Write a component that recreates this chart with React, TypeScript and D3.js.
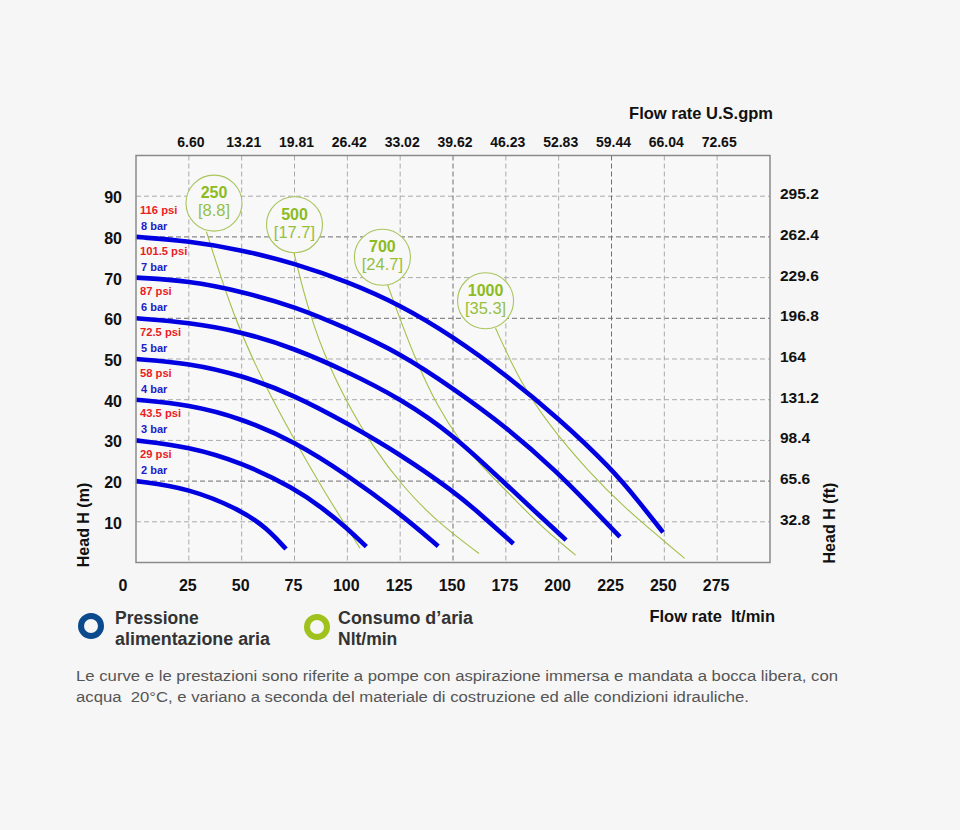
import React from "react";
import * as d3 from "d3";

// ---- data ----
const flowTicks = [25, 50, 75, 100, 125, 150, 175, 200, 225, 250, 275];
const flowTickLabels = ["25", "50", "75", "100", "125", "150", "175", "200", "225", "250", "275"];
const gpmLabels = ["6.60", "13.21", "19.81", "26.42", "33.02", "39.62", "46.23", "52.83", "59.44", "66.04", "72.65"];
const headTicks = [10, 20, 30, 40, 50, 60, 70, 80, 90];
const ftLabels = ["32.8", "65.6", "98.4", "131.2", "164", "196.8", "229.6", "262.4", "295.2"];
const darkHeadLines = [20, 60, 80];
const darkFlowLines = [150, 225];

const curve2bar: [number, number][] = [[0, 20], [25, 18.3], [50, 12.8], [62, 8.4], [71, 3.3]];
const curve3bar: [number, number][] = [[0, 30], [25, 28.5], [50, 24.6], [75, 18.2], [88, 13.5], [100, 8.4], [109, 3.9]];
const curve4bar: [number, number][] = [[0, 40], [25, 38.8], [50, 35.4], [75, 29.7], [100, 21.5], [125, 12], [143, 4]];
const curve5bar: [number, number][] = [[0, 50], [25, 49], [50, 46], [75, 41.1], [100, 34.2], [125, 26.6], [150, 17.6], [163, 11.9], [178.6, 4.6]];
const curve6bar: [number, number][] = [[0, 60], [25, 59], [50, 56.7], [75, 52.6], [100, 46.9], [125, 40.3], [150, 31.5], [175, 19.2], [191, 11.5], [203.5, 5.5]];
const curve7bar: [number, number][] = [[0, 70], [25, 69.2], [50, 66.6], [75, 62.9], [100, 57.5], [125, 51.4], [150, 42.8], [175, 33.4], [200, 21.9], [214.5, 14.1], [229, 6.3]];
const curve8bar: [number, number][] = [[0, 80], [25, 79], [50, 76.8], [75, 73.5], [100, 69], [125, 63.3], [150, 55.5], [175, 46.1], [200, 35.4], [225, 23.1], [238, 14.9], [249.4, 7.4]];

const pressureCurves = [curve2bar, curve3bar, curve4bar, curve5bar, curve6bar, curve7bar, curve8bar];
const barLabels = ["2 bar", "3 bar", "4 bar", "5 bar", "6 bar", "7 bar", "8 bar"];
const psiLabels = ["29 psi", "43.5 psi", "58 psi", "72.5 psi", "87 psi", "101.5 psi", "116 psi"];

const air250: [number, number][] = [[33.3, 81.3], [46, 60.5], [60, 44.5], [74, 31], [88, 18.3], [106, 3.5]];
const air500: [number, number][] = [[74.7, 76.2], [80, 64.8], [88.5, 51.5], [99.5, 39.5], [112, 28.5], [126, 18.8], [142, 10.2], [162.3, 2.2]];
const air700: [number, number][] = [[119, 68.3], [125.5, 59], [133, 49], [142.5, 38.5], [153, 30], [163, 24], [174.5, 18], [190.5, 9.4], [208, 1.8]];
const air1000: [number, number][] = [[170.1, 57.6], [181.1, 45], [195.3, 33.8], [214.2, 22.3], [231.5, 13.3], [250.3, 5.1], [259.6, 1]];
const airCurves = [air250, air500, air700, air1000];
const airCenters: [number, number][] = [[36.9, 88.3], [75, 83], [116.6, 75], [165.4, 64.3]];
const airNl = ["250", "500", "700", "1000"];
const airCfm = ["[8.8]", "[17.7]", "[24.7]", "[35.3]"];

// ---- layout ----
const W = 960, H = 830;
const X0 = 136, X1 = 770, Y0 = 562.5, Y1 = 155.5;
const FONT = "'Liberation Sans', Arial, Helvetica, sans-serif";

export default function App() {
  const x = d3.scaleLinear().domain([0, 300]).range([X0, X1]);
  const y = d3.scaleLinear().domain([0, 100]).range([Y0, Y1]);
  const line = d3.line<[number, number]>().x(d => x(d[0])).y(d => y(d[1])).curve(d3.curveBasis);
  const R = 28;

  return (
    <svg width={W} height={H} style={{ position: "absolute", left: 0, top: 0 }} fontFamily={FONT}>
      <rect x={0} y={0} width={W} height={H} fill="#f6f6f6" />
      <rect x={X0} y={Y1} width={X1 - X0} height={Y0 - Y1} fill="#f8f8f8" />
      {/* grid */}
      {headTicks.map(h => (
        <line key={"h" + h} x1={X0} x2={X1} y1={y(h)} y2={y(h)}
          stroke={darkHeadLines.includes(h) ? "#6e6e6e" : "#aaaaaa"} strokeWidth={1} strokeDasharray="5,3" />
      ))}
      {flowTicks.map(f => (
        <line key={"v" + f} x1={x(f)} x2={x(f)} y1={Y1} y2={Y0}
          stroke={darkFlowLines.includes(f) ? "#6e6e6e" : "#aaaaaa"} strokeWidth={1} strokeDasharray="5,3" />
      ))}
      {/* air consumption lines */}
      {airCurves.map((c, i) => (
        <path key={"a" + i} d={line(c) || ""} fill="none" stroke="#a3c04a" strokeWidth={1.1} />
      ))}
      {airCenters.map((c, i) => (
        <g key={"c" + i}>
          <circle cx={x(c[0])} cy={y(c[1])} r={R} fill="#f8f8f8" stroke="#a9c55e" strokeWidth={1.1} />
          <text x={x(c[0])} y={y(c[1]) - 5} textAnchor="middle" fontSize={16} fontWeight="bold" fill="#8cbb22">{airNl[i]}</text>
          <text x={x(c[0])} y={y(c[1]) + 13} textAnchor="middle" fontSize={16.5} fill="#94c040">{airCfm[i]}</text>
        </g>
      ))}
      {/* pressure curves */}
      {pressureCurves.map((c, i) => (
        <path key={"p" + i} d={line(c) || ""} fill="none" stroke="#0000e0" strokeWidth={4.6} />
      ))}
      {pressureCurves.map((c, i) => (
        <g key={"l" + i}>
          <text x={x(0) + 4} y={y(c[0][1]) - 23} fontSize={11.2} fontWeight="bold" fill="#ec1c24">{psiLabels[i]}</text>
          <text x={x(0) + 5} y={y(c[0][1]) - 7} fontSize={11} fontWeight="bold" fill="#2020c8">{barLabels[i]}</text>
        </g>
      ))}
      {/* frame */}
      <rect x={X0} y={Y1} width={X1 - X0} height={Y0 - Y1} fill="none" stroke="#8a8a8a" strokeWidth={1.5} />
      {/* left axis */}
      {headTicks.map(h => (
        <text key={"lt" + h} x={122} y={y(h) + 7} textAnchor="end" fontSize={16} fontWeight="bold" fill="#111">{h}</text>
      ))}
      {/* right axis */}
      {headTicks.map((h, i) => (
        <text key={"rt" + h} x={780} y={y(h) + 3} fontSize={15.5} fontWeight="bold" fill="#111">{ftLabels[i]}</text>
      ))}
      {/* bottom axis */}
      <text x={x(0) - 13} y={591} textAnchor="middle" fontSize={16} fontWeight="bold" fill="#111">0</text>
      {flowTicks.map((f, i) => (
        <text key={"bt" + f} x={x(f) - 1} y={591} textAnchor="middle" fontSize={16} fontWeight="bold" fill="#111">{flowTickLabels[i]}</text>
      ))}
      {/* top axis */}
      {flowTicks.map((f, i) => (
        <text key={"tt" + f} x={x(f) + 2} y={147} textAnchor="middle" fontSize={14} fontWeight="bold" fill="#111">{gpmLabels[i]}</text>
      ))}
      <text x={773} y={119} textAnchor="end" fontSize={16.5} fontWeight="bold" fill="#111">Flow rate U.S.gpm</text>
      <text x={775} y={622} textAnchor="end" fontSize={16.5} fontWeight="bold" fill="#111" style={{ whiteSpace: "pre" }}>Flow rate  lt/min</text>
      <text transform={`translate(89,525) rotate(-90)`} textAnchor="middle" fontSize={16} fontWeight="bold" fill="#111">Head H (m)</text>
      <text transform={`translate(835,523) rotate(-90)`} textAnchor="middle" fontSize={16} fontWeight="bold" fill="#111">Head H (ft)</text>
      {/* legend */}
      <circle cx={91} cy={626} r={10} fill="none" stroke="#0b4a8d" strokeWidth={6} />
      <text x={115} y={624} fontSize={17.5} fontWeight="bold" fill="#333">Pressione</text>
      <text x={115} y={645} fontSize={17.5} fontWeight="bold" fill="#333" textLength={155} lengthAdjust="spacingAndGlyphs">alimentazione aria</text>
      <circle cx={317} cy={627} r={10} fill="none" stroke="#9fc21c" strokeWidth={6} />
      <text x={338} y={624} fontSize={17.5} fontWeight="bold" fill="#333" textLength={135} lengthAdjust="spacingAndGlyphs">Consumo d’aria</text>
      <text x={338} y={645} fontSize={17.5} fontWeight="bold" fill="#333">Nlt/min</text>
      {/* note */}
      <text x={76} y={681} fontSize={15.5} fill="#555" textLength={762} lengthAdjust="spacingAndGlyphs">Le curve e le prestazioni sono riferite a pompe con aspirazione immersa e mandata a bocca libera, con</text>
      <text x={76} y={702} fontSize={15.5} fill="#555" style={{ whiteSpace: "pre" }} textLength={673} lengthAdjust="spacingAndGlyphs">acqua  20°C, e variano a seconda del materiale di costruzione ed alle condizioni idrauliche.</text>
    </svg>
  );
}
